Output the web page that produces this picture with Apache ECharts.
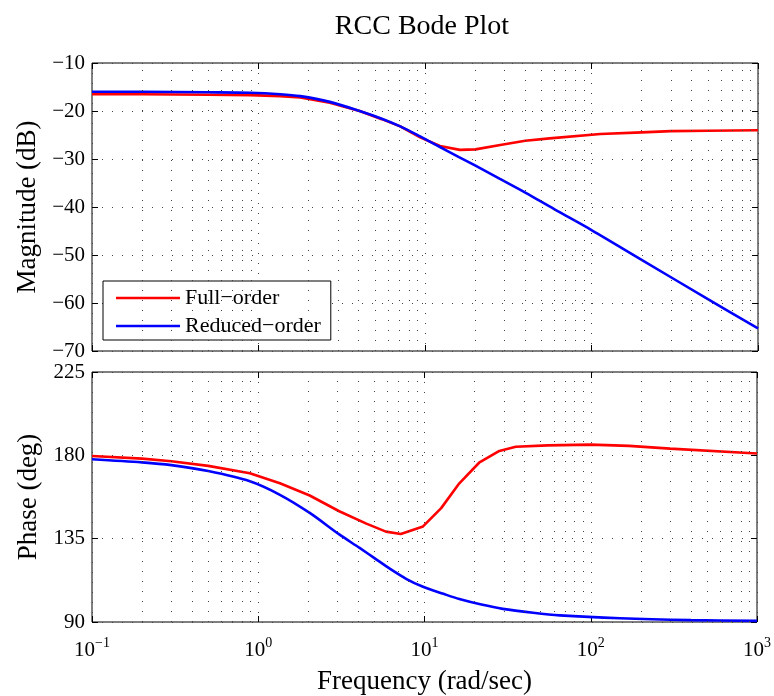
<!DOCTYPE html>
<html><head><meta charset="utf-8">
<script src="https://cdn.jsdelivr.net/npm/echarts@6/dist/echarts.min.js"></script>
<style>html,body{margin:0;padding:0;background:#fff}#c{width:774px;height:696px}</style>
</head><body><div id="c"></div>
<script>
const seriesNames = ['Full\u2212order', 'Reduced\u2212order'];

// Magnitude (dB)
const magFreqFull = [0.1, 0.2, 0.5, 0.89, 1.35, 1.78, 2.68, 4.05, 5.5, 7.1, 9.35, 12.3, 16.2, 20.1, 28.3, 40, 56, 113, 200, 300, 500, 1000];
const magFull     = [-16.5, -16.5, -16.6, -16.7, -16.9, -17.2, -18.3, -20.0, -21.7, -23.2, -25.5, -27.3, -28.1, -28.0, -27.1, -26.2, -25.7, -24.8, -24.45, -24.2, -24.1, -24.0];
const magFreqRed  = [0.1, 0.2, 0.5, 0.89, 1.35, 1.78, 2.68, 4.05, 5.5, 7.1, 9.35, 12.3, 16, 20.1, 28, 40, 60, 100, 200, 500, 1000];
const magRed      = [-16.0, -16.0, -16.1, -16.2, -16.5, -16.9, -18.1, -20.0, -21.6, -23.2, -25.3, -27.5, -29.6, -31.4, -34.1, -37.0, -40.5, -44.8, -51.0, -59.2, -65.3];

// Phase (deg)
const phFreqFull = [0.1, 0.2, 0.3, 0.5, 0.89, 1.35, 2.04, 3.07, 4.47, 5.86, 7.2, 9.8, 12.6, 16.2, 21.3, 28.2, 35.4, 55, 100, 170, 300, 1000];
const phFull     = [179.6, 178.2, 176.8, 174.3, 170.3, 164.9, 158.3, 149.8, 143.1, 138.8, 137.5, 141.6, 151.5, 164.9, 176.0, 182.4, 184.6, 185.4, 185.8, 185.1, 183.6, 181.0];
const phFreqRed  = [0.1, 0.2, 0.3, 0.5, 0.89, 1.35, 2.04, 3.07, 4.07, 5.0, 6.18, 7.8, 9.8, 13, 16.2, 22, 29.6, 45, 65, 150, 400, 1000];
const phRed      = [177.9, 176.2, 174.7, 171.5, 166.0, 158.7, 148.9, 137.3, 130.0, 124.5, 118.8, 113.2, 109.0, 105.2, 102.4, 99.4, 97.1, 95.0, 93.6, 92.0, 91.0, 90.6];

const xMinorGrid = [0.2,0.3,0.4,0.5,0.6,0.7,0.8,0.9, 2,3,4,5,6,7,8,9, 20,30,40,50,60,70,80,90, 200,300,400,500,600,700,800,900];

const FONT = "'Liberation Serif','DejaVu Serif',serif";
const pair = (xs, ys) => xs.map((x, i) => [x, ys[i]]);
const expLabel = v => { const e = Math.round(Math.log10(v)); return '{b|10}{s|' + (e < 0 ? '\u2212' + (-e) : e) + '}'; };
const gridDot = { color: '#444', type: [1, 9], width: 1 };
const minorLines = {
  silent: true, symbol: ['none', 'none'], label: { show: false },
  lineStyle: { color: '#444', type: [1, 9], width: 1 },
  emphasis: { disabled: true },
  data: xMinorGrid.map(v => ({ xAxis: v }))
};

function xAxisDef(gi, showLabels) {
  return {
    type: 'log', logBase: 10, min: 0.1, max: 1000, gridIndex: gi, position: 'bottom',
    axisLine: { show: false },
    axisTick: { show: true, inside: true, length: 6, lineStyle: { color: '#000' } },
    axisLabel: showLabels ? {
      show: true, margin: 14, formatter: expLabel, fontFamily: FONT, color: '#000',
      rich: { b: { fontSize: 21, fontFamily: FONT, color: '#000' },
              s: { fontSize: 14, fontFamily: FONT, color: '#000', padding: [0, 0, 14, 0] } }
    } : { show: false },
    splitLine: { show: true, lineStyle: gridDot },
    name: showLabels ? 'Frequency (rad/sec)' : '', nameLocation: 'middle', nameGap: 46,
    nameTextStyle: { fontFamily: FONT, fontSize: 27, color: '#000' }
  };
}
function xTopDef(gi) {
  return {
    type: 'log', logBase: 10, min: 0.1, max: 1000, gridIndex: gi, position: 'top',
    axisLine: { show: false },
    axisTick: { show: true, inside: true, length: 6, lineStyle: { color: '#000' } },
    axisLabel: { show: false }, splitLine: { show: false }
  };
}
function yAxisDef(gi, min, max, interval, name, labelFmt) {
  return {
    type: 'value', gridIndex: gi, min: min, max: max, interval: interval, position: 'left',
    axisLine: { show: false },
    axisTick: { show: true, inside: true, length: 6, lineStyle: { color: '#000' } },
    axisLabel: { show: true, margin: 7, fontFamily: FONT, fontSize: 21, color: '#000', formatter: labelFmt },
    splitLine: { show: true, lineStyle: gridDot },
    name: name, nameLocation: 'middle', nameGap: 48,
    nameTextStyle: { fontFamily: FONT, fontSize: 27, color: '#000' }
  };
}
function yRightDef(gi, min, max, interval) {
  return {
    type: 'value', gridIndex: gi, min: min, max: max, interval: interval, position: 'right',
    axisLine: { show: false },
    axisTick: { show: true, inside: true, length: 6, lineStyle: { color: '#000' } },
    axisLabel: { show: false }, splitLine: { show: false }
  };
}
const minusFmt = v => (v < 0 ? '\u2212' + (-v) : '' + v);

const chart = echarts.init(document.getElementById('c'), null, { renderer: 'canvas' });
chart.setOption({
  animation: false,
  backgroundColor: '#fff',
  title: { text: 'RCC Bode Plot', left: 417, top: 8, textAlign: 'center',
           textStyle: { fontFamily: FONT, fontSize: 28, fontWeight: 'normal', color: '#000' } },
  grid: [
    { left: 92, right: 16, top: 63, height: 288, show: true, borderColor: '#000', borderWidth: 1, backgroundColor: 'transparent' },
    { left: 92, right: 16, top: 372, height: 253, show: true, borderColor: '#000', borderWidth: 1, backgroundColor: 'transparent' }
  ],
  legend: {
    data: seriesNames, orient: 'vertical', left: 103, top: 281,
    backgroundColor: '#fff', borderColor: '#000', borderWidth: 1,
    padding: [6, 10, 3, 13], itemGap: 6, itemWidth: 64, itemHeight: 2.6, icon: 'rect',
    selectedMode: false,
    textStyle: { fontFamily: FONT, fontSize: 22, color: '#000' }
  },
  xAxis: [xAxisDef(0, false), xTopDef(0), xAxisDef(1, true), xTopDef(1)],
  yAxis: [
    yAxisDef(0, -70, -10, 10, 'Magnitude (dB)', minusFmt), yRightDef(0, -70, -10, 10),
    yAxisDef(1, 90, 225, 45, 'Phase (deg)', minusFmt), yRightDef(1, 90, 225, 45)
  ],
  series: [
    { name: seriesNames[0], type: 'line', xAxisIndex: 0, yAxisIndex: 0, data: pair(magFreqFull, magFull),
      showSymbol: false, lineStyle: { color: '#ff0000', width: 2.6 }, itemStyle: { color: '#ff0000' }, markLine: minorLines, z: 3 },
    { name: seriesNames[1], type: 'line', xAxisIndex: 0, yAxisIndex: 0, data: pair(magFreqRed, magRed), smooth: 0.3,
      showSymbol: false, lineStyle: { color: '#0000ff', width: 2.6 }, itemStyle: { color: '#0000ff' }, z: 4 },
    { name: seriesNames[0], type: 'line', xAxisIndex: 2, yAxisIndex: 2, data: pair(phFreqFull, phFull),
      showSymbol: false, lineStyle: { color: '#ff0000', width: 2.6 }, itemStyle: { color: '#ff0000' }, markLine: minorLines, z: 3 },
    { name: seriesNames[1], type: 'line', xAxisIndex: 2, yAxisIndex: 2, data: pair(phFreqRed, phRed), smooth: 0.3,
      showSymbol: false, lineStyle: { color: '#0000ff', width: 2.6 }, itemStyle: { color: '#0000ff' }, z: 4 }
  ]
});
</script></body></html>
